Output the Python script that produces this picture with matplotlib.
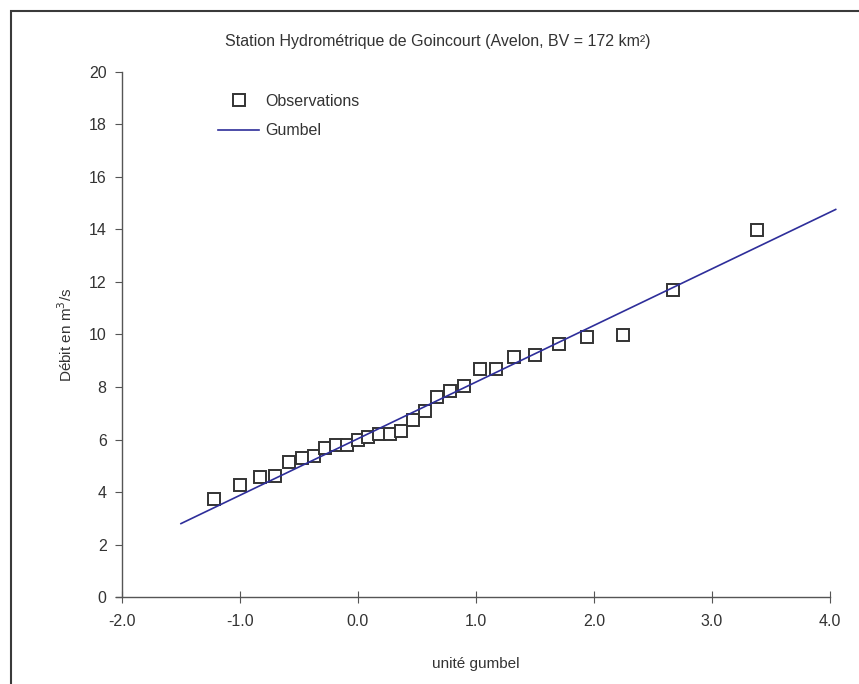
import matplotlib.pyplot as plt
from matplotlib.patches import Rectangle
from matplotlib import font_manager

# unité gumbel (positions de Weibull, n = 29)
u_obs = [-1.224, -0.996, -0.834, -0.701, -0.583, -0.476, -0.375, -0.279, -0.186, -0.094,
         -0.003, 0.087, 0.179, 0.272, 0.367, 0.464, 0.566, 0.672, 0.784, 0.903,
         1.031, 1.171, 1.325, 1.500, 1.702, 1.944, 2.250, 2.674, 3.384]
# débits observés classés (m3/s)
q_obs = [3.75, 4.27, 4.57, 4.62, 5.15, 5.28, 5.38, 5.68, 5.80, 5.79,
         5.98, 6.11, 6.22, 6.21, 6.34, 6.73, 7.09, 7.63, 7.86, 8.03,
         8.68, 8.68, 9.15, 9.21, 9.62, 9.91, 9.97, 11.68, 13.97]
# ajustement de Gumbel
u_fit = [-1.5, 4.05]
q_fit = [2.80, 14.76]

names = {f.name for f in font_manager.fontManager.ttflist}
fam = 'Liberation Sans Narrow' if 'Liberation Sans Narrow' in names else 'Liberation Sans'
plt.rcParams['font.family'] = [fam, 'DejaVu Sans']
plt.rcParams['text.color'] = '#333333'

fig = plt.figure(figsize=(8.59, 6.84), dpi=100)
ax = fig.add_axes([0.142, 0.127, 0.824, 0.768])

# cadre extérieur
fig.patches.append(Rectangle((11 / 859, -0.05), 1.0, 1 - 11 / 684 + 0.05,
                             transform=fig.transFigure, fill=False,
                             edgecolor='#3a3a3a', lw=1.5))

ax.plot(u_obs, q_obs, 's', mfc='white', mec='#333333', mew=1.4, ms=8,
        ls='none', label='Observations')
ax.plot(u_fit, q_fit, '-', color='#2e2e9a', lw=1.2, label='Gumbel', clip_on=False)

ax.set_xlim(-2.0, 4.0)
ax.set_ylim(0, 20)
ax.set_xticks([-2, -1, 0, 1, 2, 3, 4])
ax.set_xticklabels(['-2.0', '-1.0', '0.0', '1.0', '2.0', '3.0', '4.0'])
ax.set_yticks(range(0, 21, 2))

for s in ['top', 'right']:
    ax.spines[s].set_visible(False)
for s in ['left', 'bottom']:
    ax.spines[s].set_color('#555555')
    ax.spines[s].set_linewidth(1.0)
ax.spines['bottom'].set_bounds(-2.05, 4.0)
ax.tick_params(axis='x', direction='inout', length=9, color='#555555',
               labelsize=11.5, labelcolor='#333333', pad=8)
ax.tick_params(axis='y', direction='out', length=5, color='#555555',
               labelsize=11.5, labelcolor='#333333', pad=6)

ax.set_xlabel('unité gumbel', fontsize=11, color='#333333', labelpad=20)
ax.set_ylabel('Débit en m$^3$/s', fontsize=11, color='#333333', labelpad=10)
fig.text(0.51, 0.940, 'Station Hydrométrique de Goincourt (Avelon, BV = 172 km²)',
         ha='center', va='center', fontsize=11.5, color='#333333')

ax.legend(loc='upper left', bbox_to_anchor=(0.115, 0.985), frameon=False,
          fontsize=11.5, handlelength=2.6, handletextpad=0.4, labelspacing=0.9)

fig.savefig('out.png', dpi=100)
